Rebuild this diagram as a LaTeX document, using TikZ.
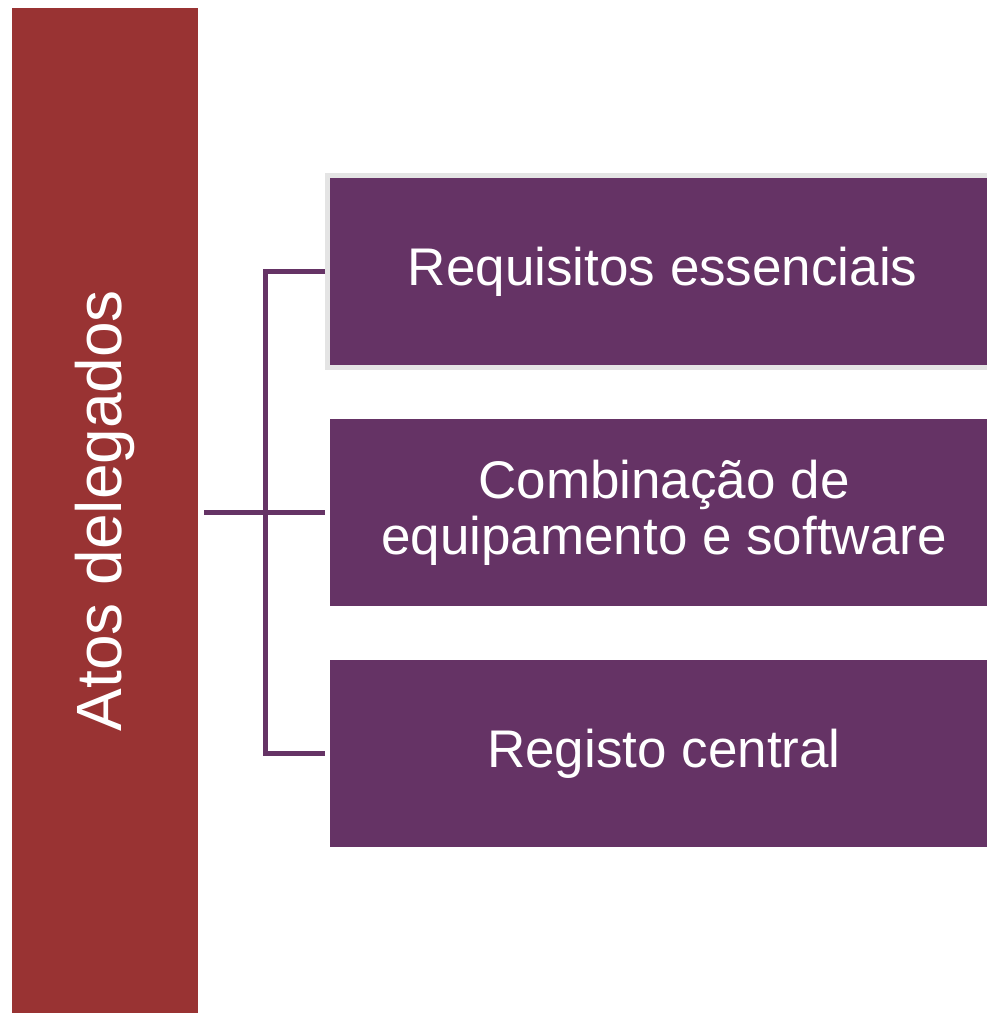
\documentclass[tikz,border=0pt]{standalone}
\usepackage{fontspec}
\setmainfont{Liberation Sans}
\usetikzlibrary{calc}
\definecolor{atosred}{RGB}{153,51,51}
\definecolor{itempurple}{RGB}{101,51,101}
\definecolor{framegray}{RGB}{228,228,228}
\tikzset{
  bar/.style={fill=atosred,text=white,minimum width=186pt,minimum height=1005pt,inner sep=0pt,outer sep=0pt,font=\fontsize{64}{70}\selectfont},
  item/.style={fill=itempurple,text=white,minimum width=668pt,minimum height=187pt,inner sep=0pt,outer sep=0pt,align=center,font=\fontsize{53}{56}\selectfont},
  conn/.style={draw=itempurple,line width=5pt}
}
\begin{document}
\begin{tikzpicture}[x=1pt,y=-1pt]
 \useasboundingbox (0,0) rectangle (987,1014);
 \node[bar] (atos) at (105,510.5) {\rotatebox{90}{Atos delegados}};
 % first box has a light frame round it
 \node[item,draw=framegray,line width=5pt,minimum width=670.5pt,minimum height=192pt,outer sep=2.5pt] (req) at (662.75,271.5) {Requisitos essenciais};
 \node[item] (comb) at (664,512.5) {Combinação de\\equipamento e software};
 \node[item] (reg) at (664,753.5) {Registo central};
 \coordinate (trunk) at (265,0);
 \draw[conn,shorten >=5pt] (req.west) -| (trunk |- reg.west) -- (reg.west);
 \draw[conn,shorten <=6pt,shorten >=5pt] (atos.east |- comb.west) -- (comb.west);
\end{tikzpicture}
\end{document}
